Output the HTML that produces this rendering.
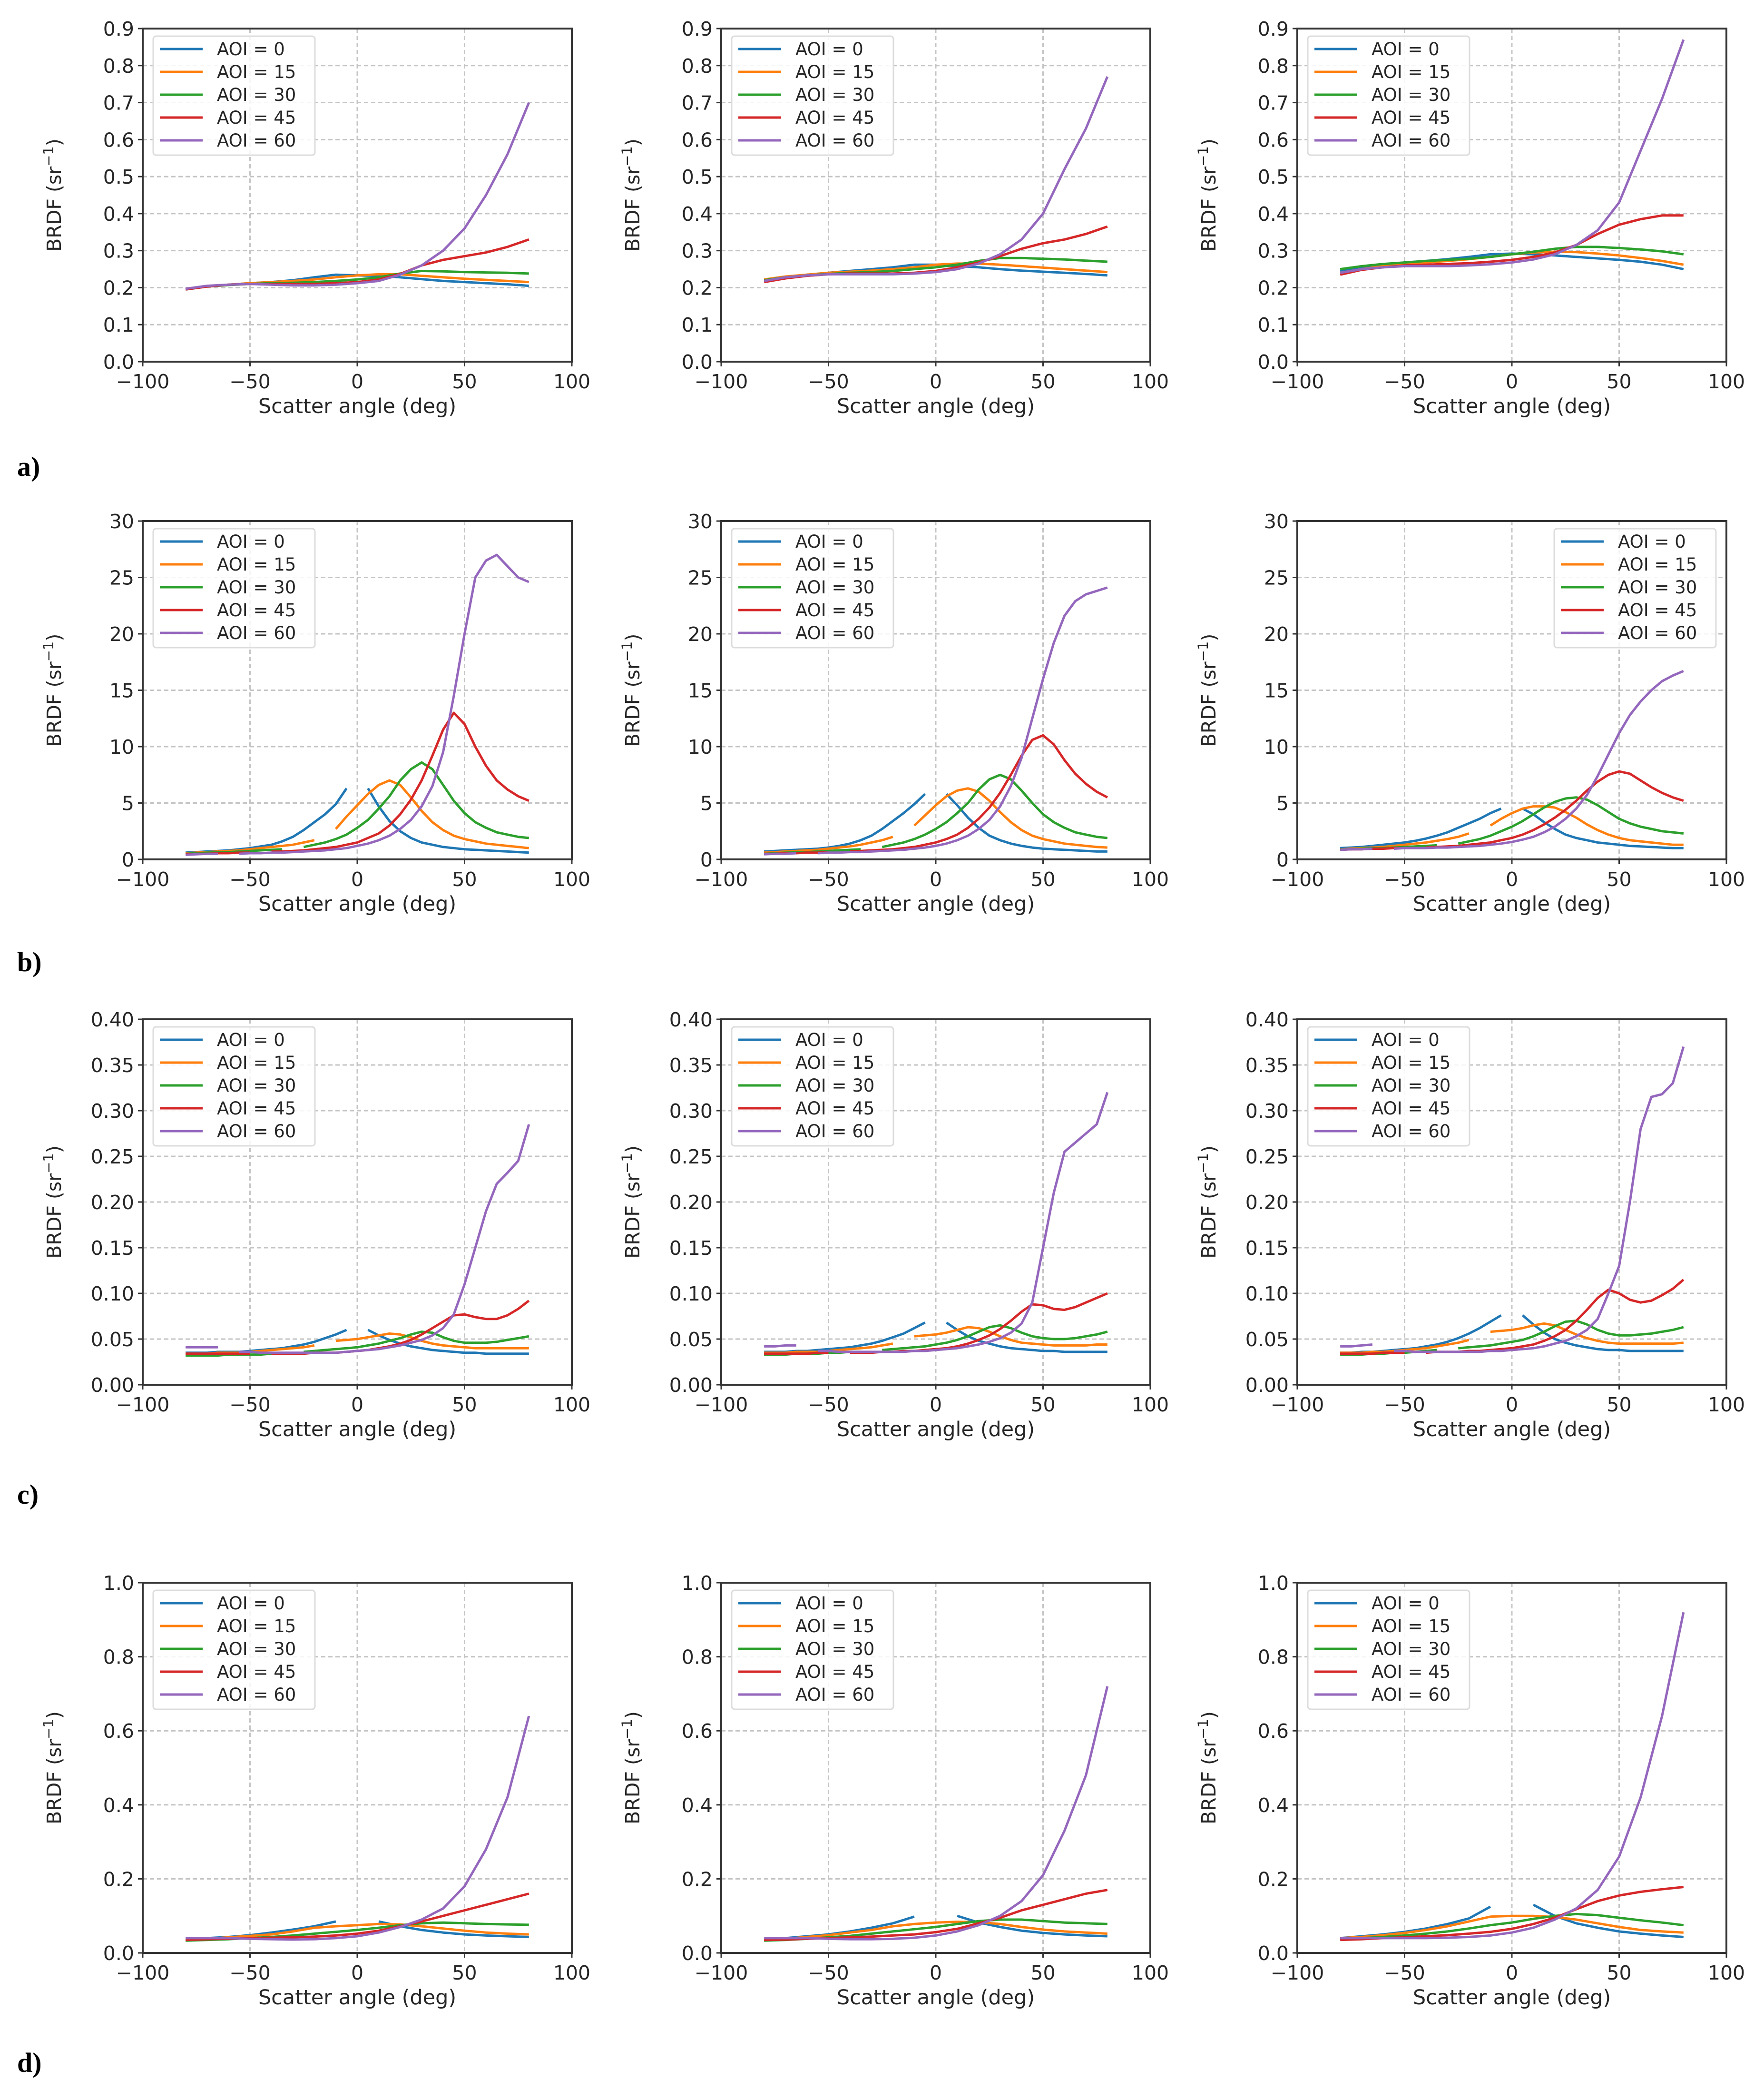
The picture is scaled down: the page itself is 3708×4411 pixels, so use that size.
<!DOCTYPE html>
<html><head><meta charset="utf-8"><title>BRDF vs scatter angle</title>
<style>
html,body{margin:0;padding:0;background:#fff;}
svg{display:block;}
text{font-family:"DejaVu Sans","Liberation Sans",sans-serif;fill:#262626;}
.plab{font-family:"Liberation Serif",serif;font-weight:bold;fill:#000;}
</style></head>
<body>
<svg id="fig" xmlns="http://www.w3.org/2000/svg" width="3708" height="4411" viewBox="0 0 3708 4411"></svg>
<script>
// x grids
const xs10 = [-80,-70,-60,-50,-40,-30,-20,-10,0,10,20,30,40,50,60,70,80];
const xs5 = [-80,-75,-70,-65,-60,-55,-50,-45,-40,-35,-30,-25,-20,-15,-10,-5,0,5,10,15,20,25,30,35,40,45,50,55,60,65,70,75,80];
const seriesLabels = ["AOI = 0","AOI = 15","AOI = 30","AOI = 45","AOI = 60"];
const xTicks = [-100,-50,0,50,100];
const yTicksA = ["0.0","0.1","0.2","0.3","0.4","0.5","0.6","0.7","0.8","0.9"];
const yTicksB = ["0","5","10","15","20","25","30"];
const yTicksC = ["0.00","0.05","0.10","0.15","0.20","0.25","0.30","0.35","0.40"];
const yTicksD = ["0.0","0.2","0.4","0.6","0.8","1.0"];

// Row a
const a1_0=[.195,.203,.208,.212,.215,.22,.228,.235,.233,.232,.228,.223,.218,.215,.212,.209,.205];
const a1_15=[.197,.204,.208,.212,.215,.218,.222,.228,.233,.236,.236,.232,.228,.224,.221,.218,.215];
const a1_30=[.196,.203,.207,.21,.212,.213,.215,.218,.222,.228,.238,.245,.244,.242,.241,.24,.238];
const a1_45=[.195,.203,.208,.21,.21,.21,.21,.212,.215,.222,.237,.26,.275,.285,.295,.31,.33];
const a1_60=[.197,.205,.208,.21,.208,.206,.206,.208,.212,.218,.235,.26,.30,.36,.45,.56,.70];
const a2_0=[.22,.228,.235,.24,.245,.25,.255,.262,.262,.258,.255,.25,.246,.243,.24,.237,.233];
const a2_15=[.222,.23,.235,.24,.243,.246,.25,.255,.262,.265,.265,.262,.258,.254,.25,.246,.242];
const a2_30=[.22,.228,.233,.237,.24,.242,.245,.25,.255,.262,.272,.28,.28,.278,.276,.273,.27];
const a2_45=[.215,.225,.232,.236,.238,.238,.238,.24,.245,.255,.268,.285,.305,.32,.33,.345,.365];
const a2_60=[.218,.228,.233,.236,.236,.236,.236,.238,.242,.25,.265,.29,.33,.40,.52,.63,.77];
const a3_0=[.245,.255,.262,.268,.272,.277,.283,.29,.292,.29,.287,.283,.279,.275,.27,.262,.25];
const a3_15=[.24,.25,.258,.264,.268,.272,.277,.283,.29,.295,.297,.296,.292,.287,.28,.272,.262];
const a3_30=[.25,.258,.264,.268,.272,.275,.278,.283,.29,.297,.305,.31,.31,.307,.303,.298,.29];
const a3_45=[.235,.248,.255,.26,.262,.264,.266,.27,.275,.283,.295,.315,.345,.37,.385,.395,.395];
const a3_60=[.24,.25,.255,.258,.258,.258,.26,.263,.268,.276,.29,.315,.355,.43,.57,.71,.87];

// Row b
const b1_0=[0.6,0.65,0.7,0.75,0.8,0.9,1.0,1.15,1.3,1.6,2.0,2.6,3.3,4.0,4.9,6.3,null,6.3,4.7,3.4,2.5,1.9,1.5,1.3,1.1,1.0,0.9,0.85,0.8,0.75,0.7,0.65,0.6];
const b1_15=[0.55,0.6,0.65,0.7,0.75,0.8,0.9,1.0,1.1,1.2,1.3,1.5,1.7,null,2.7,3.8,4.8,5.8,6.6,7.0,6.6,5.5,4.3,3.3,2.6,2.1,1.8,1.6,1.4,1.3,1.2,1.1,1.0];
const b1_30=[0.5,0.55,0.6,0.62,0.65,0.7,0.75,0.8,0.85,0.9,null,1.1,1.3,1.5,1.8,2.2,2.8,3.5,4.5,5.6,7.0,8.0,8.6,8.0,6.6,5.2,4.1,3.3,2.8,2.4,2.2,2.0,1.9];
const b1_45=[0.45,0.5,0.5,0.55,0.55,0.6,0.6,null,0.7,0.7,0.75,0.8,0.9,1.0,1.1,1.3,1.5,1.9,2.3,3.0,4.0,5.3,7.0,9.2,11.5,13.0,12.0,10.0,8.3,7.0,6.2,5.6,5.2];
const b1_60=[0.4,0.45,0.5,0.5,null,0.5,0.55,0.55,0.6,0.6,0.65,0.7,0.75,0.8,0.9,1.0,1.2,1.4,1.7,2.1,2.7,3.5,4.7,6.5,9.5,14.5,20,25,26.5,27,26,25,24.6];
const b2_0=[0.7,0.75,0.8,0.85,0.9,0.95,1.05,1.2,1.4,1.7,2.1,2.7,3.4,4.1,4.9,5.8,null,5.8,4.8,3.7,2.8,2.1,1.7,1.4,1.2,1.05,0.95,0.9,0.85,0.8,0.75,0.7,0.7];
const b2_15=[0.6,0.65,0.7,0.75,0.8,0.85,0.95,1.05,1.15,1.3,1.5,1.7,2.0,null,3.0,3.9,4.8,5.6,6.1,6.3,6.0,5.2,4.2,3.3,2.6,2.1,1.8,1.6,1.4,1.3,1.2,1.1,1.05];
const b2_30=[0.5,0.55,0.6,0.62,0.65,0.7,0.75,0.8,0.85,0.9,null,1.1,1.3,1.5,1.8,2.2,2.7,3.3,4.1,5.0,6.2,7.1,7.5,7.1,6.1,5.0,4.0,3.3,2.8,2.4,2.2,2.0,1.9];
const b2_45=[0.5,0.5,0.55,0.55,0.6,0.6,0.65,null,0.7,0.75,0.8,0.85,0.9,1.0,1.1,1.3,1.5,1.8,2.2,2.8,3.6,4.6,5.9,7.5,9.2,10.6,11.0,10.2,8.8,7.6,6.7,6.0,5.5];
const b2_60=[0.45,0.5,0.5,0.55,null,0.55,0.6,0.6,0.65,0.65,0.7,0.75,0.8,0.85,0.95,1.05,1.2,1.4,1.7,2.1,2.7,3.5,4.7,6.5,9.0,12.5,16.0,19.2,21.6,22.9,23.5,23.8,24.1];
const b3_0=[1.0,1.05,1.1,1.2,1.3,1.4,1.5,1.65,1.85,2.1,2.4,2.8,3.2,3.6,4.1,4.5,null,4.5,4.0,3.3,2.7,2.2,1.9,1.7,1.5,1.4,1.3,1.2,1.15,1.1,1.05,1.0,1.0];
const b3_15=[0.9,0.95,1.0,1.05,1.1,1.2,1.3,1.4,1.5,1.65,1.8,2.0,2.3,null,3.0,3.6,4.1,4.5,4.7,4.7,4.6,4.2,3.7,3.1,2.6,2.2,1.9,1.7,1.6,1.5,1.4,1.3,1.3];
const b3_30=[0.9,0.9,0.95,1.0,1.0,1.05,1.1,1.15,1.2,1.25,null,1.4,1.6,1.8,2.1,2.5,2.9,3.4,4.0,4.6,5.1,5.4,5.5,5.3,4.8,4.2,3.6,3.2,2.9,2.7,2.5,2.4,2.3];
const b3_45=[0.85,0.9,0.9,0.95,0.95,1.0,1.0,null,1.05,1.1,1.15,1.2,1.3,1.4,1.5,1.7,1.9,2.2,2.6,3.1,3.7,4.4,5.2,6.1,6.9,7.5,7.8,7.6,7.0,6.4,5.9,5.5,5.2];
const b3_60=[0.85,0.9,0.9,0.95,null,0.95,1.0,1.0,1.0,1.05,1.05,1.1,1.15,1.2,1.3,1.4,1.55,1.75,2.0,2.4,2.9,3.6,4.5,5.7,7.4,9.3,11.2,12.8,14.0,15.0,15.8,16.3,16.7];

// Row c
const c1_0=[0.035,0.035,0.035,0.036,0.036,0.036,0.037,0.038,0.039,0.04,0.042,0.044,0.047,0.051,0.055,0.06,null,0.06,0.054,0.049,0.045,0.042,0.04,0.038,0.037,0.036,0.035,0.035,0.034,0.034,0.034,0.034,0.034];
const c1_15=[0.034,0.034,0.034,0.035,0.035,0.035,0.036,0.037,0.038,0.039,0.04,0.041,0.043,null,0.048,0.049,0.05,0.052,0.054,0.056,0.055,0.052,0.048,0.045,0.043,0.042,0.041,0.04,0.04,0.04,0.04,0.04,0.04];
const c1_30=[0.032,0.032,0.032,0.032,0.033,0.033,0.033,0.033,0.034,0.034,null,0.036,0.037,0.038,0.039,0.04,0.041,0.043,0.045,0.048,0.051,0.055,0.058,0.057,0.052,0.048,0.046,0.046,0.046,0.047,0.049,0.051,0.053];
const c1_45=[0.034,0.034,0.034,0.034,0.034,0.034,0.034,null,0.034,0.034,0.034,0.034,0.035,0.035,0.035,0.036,0.037,0.038,0.04,0.042,0.045,0.049,0.055,0.062,0.069,0.076,0.077,0.074,0.072,0.072,0.076,0.083,0.092];
const c1_60=[0.041,0.041,0.041,0.041,null,0.036,0.036,0.035,0.035,0.035,0.035,0.035,0.035,0.035,0.035,0.036,0.037,0.038,0.039,0.041,0.043,0.046,0.049,0.054,0.062,0.077,0.11,0.15,0.19,0.22,0.232,0.245,0.285];
const c2_0=[0.036,0.036,0.036,0.037,0.037,0.038,0.039,0.04,0.041,0.043,0.045,0.048,0.052,0.056,0.062,0.068,null,0.068,0.06,0.053,0.048,0.045,0.042,0.04,0.039,0.038,0.037,0.037,0.036,0.036,0.036,0.036,0.036];
const c2_15=[0.035,0.035,0.035,0.036,0.036,0.036,0.037,0.038,0.039,0.04,0.041,0.043,0.045,null,0.053,0.054,0.055,0.057,0.06,0.063,0.062,0.058,0.053,0.049,0.046,0.045,0.044,0.043,0.043,0.043,0.043,0.044,0.044];
const c2_30=[0.033,0.033,0.033,0.034,0.034,0.034,0.035,0.035,0.036,0.036,null,0.038,0.039,0.04,0.041,0.042,0.044,0.046,0.049,0.053,0.058,0.063,0.065,0.062,0.057,0.053,0.051,0.05,0.05,0.051,0.053,0.055,0.058];
const c2_45=[0.034,0.034,0.034,0.034,0.034,0.035,0.035,null,0.035,0.035,0.035,0.036,0.036,0.037,0.037,0.038,0.039,0.04,0.042,0.045,0.049,0.054,0.061,0.07,0.08,0.088,0.087,0.083,0.082,0.085,0.09,0.095,0.1];
const c2_60=[0.042,0.042,0.043,0.043,null,0.037,0.037,0.036,0.036,0.036,0.036,0.036,0.036,0.036,0.037,0.037,0.038,0.039,0.04,0.042,0.044,0.047,0.051,0.057,0.067,0.09,0.15,0.21,0.255,0.265,0.275,0.285,0.32];
const c3_0=[0.035,0.035,0.036,0.036,0.037,0.038,0.039,0.04,0.042,0.044,0.047,0.051,0.056,0.062,0.069,0.076,null,0.076,0.066,0.057,0.05,0.046,0.043,0.041,0.039,0.038,0.038,0.037,0.037,0.037,0.037,0.037,0.037];
const c3_15=[0.035,0.035,0.035,0.036,0.036,0.037,0.038,0.039,0.04,0.042,0.044,0.046,0.049,null,0.058,0.059,0.06,0.062,0.065,0.067,0.065,0.06,0.055,0.051,0.048,0.046,0.045,0.045,0.045,0.045,0.045,0.045,0.046];
const c3_30=[0.033,0.033,0.033,0.034,0.034,0.035,0.035,0.036,0.037,0.038,null,0.04,0.041,0.042,0.043,0.045,0.047,0.049,0.053,0.058,0.064,0.069,0.07,0.066,0.06,0.056,0.054,0.054,0.055,0.056,0.058,0.06,0.063];
const c3_45=[0.034,0.034,0.034,0.034,0.035,0.035,0.035,null,0.035,0.036,0.036,0.036,0.037,0.037,0.038,0.039,0.04,0.042,0.044,0.048,0.053,0.06,0.07,0.082,0.095,0.104,0.1,0.093,0.09,0.092,0.098,0.105,0.115];
const c3_60=[0.042,0.042,0.043,0.044,null,0.037,0.037,0.036,0.036,0.036,0.036,0.036,0.036,0.036,0.037,0.037,0.038,0.039,0.04,0.042,0.045,0.048,0.053,0.06,0.072,0.1,0.13,0.2,0.28,0.315,0.318,0.33,0.37];

// Row d
const d1_0=[.035,.04,.043,.048,.055,.063,.072,.085,null,.085,.072,.062,.055,.05,.047,.045,.043];
const d1_15=[.035,.038,.042,.046,.05,.058,.068,.072,.075,.078,.077,.072,.066,.06,.055,.052,.05];
const d1_30=[.033,.035,.037,.04,.043,.047,.052,.057,.062,.068,.075,.08,.082,.08,.078,.077,.076];
const d1_45=[.035,.037,.038,.04,.041,.042,.044,.047,.052,.06,.072,.085,.10,.115,.13,.145,.16];
const d1_60=[.04,.04,.04,.038,.037,.036,.037,.04,.045,.055,.07,.09,.12,.18,.28,.42,.64];
const d2_0=[.035,.04,.045,.05,.058,.068,.08,.098,null,.1,.082,.07,.06,.054,.05,.047,.045];
const d2_15=[.035,.038,.043,.048,.055,.062,.072,.078,.082,.084,.083,.078,.07,.063,.058,.055,.052];
const d2_30=[.033,.035,.038,.042,.046,.052,.058,.064,.07,.078,.086,.09,.09,.086,.082,.08,.078];
const d2_45=[.035,.036,.038,.04,.042,.044,.047,.05,.056,.065,.08,.095,.115,.13,.145,.16,.17];
const d2_60=[.04,.04,.04,.038,.037,.037,.038,.041,.047,.058,.075,.1,.14,.21,.33,.48,.72];
const d3_0=[.04,.045,.05,.057,.066,.078,.093,.125,null,.13,.1,.08,.068,.058,.052,.047,.043];
const d3_15=[.04,.043,.048,.054,.062,.072,.085,.098,.1,.1,.097,.09,.08,.07,.062,.058,.055];
const d3_30=[.037,.04,.043,.047,.052,.058,.066,.075,.082,.092,.1,.105,.102,.095,.088,.082,.075];
const d3_45=[.035,.037,.04,.042,.045,.048,.052,.057,.065,.078,.095,.118,.14,.155,.165,.172,.178];
const d3_60=[.04,.04,.04,.04,.04,.041,.043,.047,.055,.068,.09,.12,.17,.26,.42,.64,.92];

const COLORS=["#1f77b4","#ff7f0e","#2ca02c","#d62728","#9467bd"];
const colLeft=[300,1516,2727];
const PW=902;
const rows=[
 {id:"a",top:60,bot:760,ymax:0.9,ticks:yTicksA,xs:xs10,lab:"a)",laby:982,data:[[a1_0,a1_15,a1_30,a1_45,a1_60],[a2_0,a2_15,a2_30,a2_45,a2_60],[a3_0,a3_15,a3_30,a3_45,a3_60]]},
 {id:"b",top:1095,bot:1806,ymax:30,ticks:yTicksB,xs:xs5,lab:"b)",laby:2023,data:[[b1_0,b1_15,b1_30,b1_45,b1_60],[b2_0,b2_15,b2_30,b2_45,b2_60],[b3_0,b3_15,b3_30,b3_45,b3_60]]},
 {id:"c",top:2142,bot:2910,ymax:0.40,ticks:yTicksC,xs:xs5,lab:"c)",laby:3142,data:[[c1_0,c1_15,c1_30,c1_45,c1_60],[c2_0,c2_15,c2_30,c2_45,c2_60],[c3_0,c3_15,c3_30,c3_45,c3_60]]},
 {id:"d",top:3326,bot:4104,ymax:1.0,ticks:yTicksD,xs:xs10,lab:"d)",laby:4336,data:[[d1_0,d1_15,d1_30,d1_45,d1_60],[d2_0,d2_15,d2_30,d2_45,d2_60],[d3_0,d3_15,d3_30,d3_45,d3_60]]}
];
const NS="http://www.w3.org/2000/svg";
const svg=document.getElementById('fig');
function mk(tag,attrs,parent){const e=document.createElementNS(NS,tag);for(const k in attrs)e.setAttribute(k,attrs[k]);(parent||svg).appendChild(e);return e;}

rows.forEach((row,ri)=>{
  const lab=mk('text',{x:36,y:row.laby+18,'font-size':58,class:'plab'});
  
  
  lab.textContent=row.lab;
  row.data.forEach((series,ci)=>{
    const L=colLeft[ci],R=L+PW,T=row.top,B=row.bot;
    const xS=v=>L+(v+100)/200*(R-L);
    const yS=v=>B-v/row.ymax*(B-T);
    const g=mk('g',{});
    
    
    // grid
    xTicks.forEach(t=>{const ln=mk('line',{x1:xS(t),x2:xS(t),y1:T,y2:B,stroke:'#c4c4c4','stroke-width':3,'stroke-dasharray':'9,6'},g);
      
      });
    row.ticks.forEach(t=>{const y=yS(parseFloat(t));const ln=mk('line',{x1:L,x2:R,y1:y,y2:y,stroke:'#c4c4c4','stroke-width':3,'stroke-dasharray':'9,6'},g);
      
      });
    // series
    series.forEach((arr,si)=>{
      let d='',pen=false;
      arr.forEach((v,i)=>{if(v===null||v===undefined){pen=false;return;}
        d+=(pen?'L':'M')+xS(row.xs[i]).toFixed(1)+','+yS(v).toFixed(1);pen=true;});
      const p=mk('path',{d:d,fill:'none',stroke:COLORS[si],'stroke-width':5,'stroke-linejoin':'round','stroke-linecap':'butt'},g);
      
      
    });
    // frame
    const fr=mk('rect',{x:L,y:T,width:R-L,height:B-T,fill:'none',stroke:'#333','stroke-width':4},g);
    
    
    // x ticks
    xTicks.forEach(t=>{
      const tk=mk('line',{x1:xS(t),x2:xS(t),y1:B,y2:B+10,stroke:'#333','stroke-width':3},g);
      
      
      const tx=mk('text',{x:xS(t),y:B+56,'font-size':41,'text-anchor':'middle'},g);
      
      
      tx.textContent=(t<0?'\u2212'+(-t):String(t));
    });
    row.ticks.forEach(t=>{
      const y=yS(parseFloat(t));
      const tk=mk('line',{x1:L-10,x2:L,y1:y,y2:y,stroke:'#333','stroke-width':3},g);
      
      
      const tx=mk('text',{x:L-18,y:y+15,'font-size':41,'text-anchor':'end'},g);
      
      
      tx.textContent=t;
    });
    const xt=mk('text',{x:(L+R)/2,y:B+108,'font-size':43,'text-anchor':'middle'},g);
    
    
    xt.textContent='Scatter angle (deg)';
    const cx=L-172, cy=(T+B)/2;
    const yt=mk('text',{x:cx,y:cy,'font-size':41,'text-anchor':'middle',transform:'rotate(-90 '+cx+' '+cy+')'},g);
    
    
    yt.appendChild(document.createTextNode('BRDF (sr'));
    const sup=mk('tspan',{'font-size':29,dy:-16},yt);
    sup.textContent='\u22121';
    const close=mk('tspan',{dy:16},yt);
    close.textContent=')';
    // legend
    const lw=340,lh=250;
    const lx=(row.id==='b'&&ci===2)?R-22-lw:L+22, ly=T+16;
    const lg=mk('g',{},g);
    
    
    mk('rect',{x:lx,y:ly,width:lw,height:lh,rx:6,fill:'#fff','fill-opacity':0.85,stroke:'#dcdcdc','stroke-width':3},lg);
    seriesLabels.forEach((s,si)=>{
      const yy=ly+27+si*48;
      const e=mk('g',{},lg);
      
      
      mk('line',{x1:lx+14,x2:lx+104,y1:yy,y2:yy,stroke:COLORS[si],'stroke-width':5},e);
      const t=mk('text',{x:lx+134,y:yy+13,'font-size':37},e);
      t.textContent=s;
    });
  });
});
</script>
</body></html>
